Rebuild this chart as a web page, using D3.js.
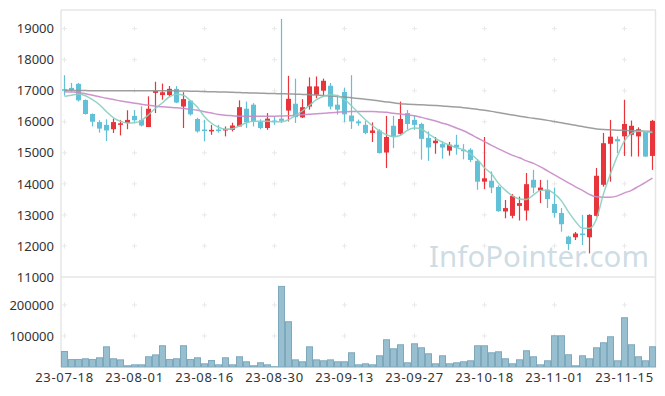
<!DOCTYPE html>
<html>
<head>
<meta charset="utf-8">
<script src="https://cdn.jsdelivr.net/npm/d3@7"></script>
<style>
  body { margin: 0; background: #fff; }
  svg { display: block; font-family: "Noto Sans", sans-serif; }
</style>
</head>
<body>
<svg id="chart"></svg>
<script>
// trading days shown (23-07-18 .. 23-11-21)
var dates = [
  "2023-07-18","2023-07-19","2023-07-20","2023-07-21","2023-07-24","2023-07-25","2023-07-26","2023-07-27","2023-07-28","2023-07-31",
  "2023-08-01","2023-08-02","2023-08-03","2023-08-04","2023-08-07","2023-08-08","2023-08-09","2023-08-10","2023-08-11","2023-08-14",
  "2023-08-16","2023-08-17","2023-08-18","2023-08-21","2023-08-22","2023-08-23","2023-08-24","2023-08-25","2023-08-28","2023-08-29",
  "2023-08-30","2023-08-31","2023-09-01","2023-09-04","2023-09-05","2023-09-06","2023-09-07","2023-09-08","2023-09-11","2023-09-12",
  "2023-09-13","2023-09-14","2023-09-15","2023-09-18","2023-09-19","2023-09-20","2023-09-21","2023-09-22","2023-09-25","2023-09-26",
  "2023-09-27","2023-10-04","2023-10-05","2023-10-06","2023-10-10","2023-10-11","2023-10-12","2023-10-13","2023-10-16","2023-10-17",
  "2023-10-18","2023-10-19","2023-10-20","2023-10-23","2023-10-24","2023-10-25","2023-10-26","2023-10-27","2023-10-30","2023-10-31",
  "2023-11-01","2023-11-02","2023-11-03","2023-11-06","2023-11-07","2023-11-08","2023-11-09","2023-11-10","2023-11-13","2023-11-14",
  "2023-11-15","2023-11-16","2023-11-17","2023-11-20","2023-11-21"
];

var openPrice = [
  17050,17090,17220,16700,16250,15990,15900,15760,15900,15960,
  16190,16060,15830,16930,16860,16860,17060,16490,16680,16090,
  15750,15690,15750,15720,15740,15850,16420,16550,16010,15800,
  16040,16100,16360,16580,16140,16490,16870,17000,17160,16550,
  16960,16200,16010,15900,15640,15720,15010,15870,15610,16280,
  16060,15930,15480,15310,15280,15070,15260,15100,15100,14740,
  14070,14100,13900,13110,12970,13290,13140,14130,13780,13810,
  13350,13060,12300,12280,12400,12280,12970,13970,15290,15440,
  15530,15580,15530,15690,14900
];
var highPrice = [
  17500,17250,17250,16720,16270,16050,16080,16100,16060,16370,
  16380,16500,16820,17290,17230,17150,17150,16950,16700,16130,
  16060,15900,15900,15850,15970,16690,16650,16600,16080,16280,
  16170,19310,17480,17390,16730,17430,17460,17390,17250,16870,
  17100,17500,16070,16030,15980,15760,16190,16190,16650,16380,
  16200,15970,15690,15510,15370,15350,15580,15280,15150,14800,
  15510,14400,13950,13480,13670,13590,14350,14450,14130,14130,
  13880,13220,12330,12450,13000,13020,14510,15640,16060,15530,
  16710,16040,15820,15700,16060
];
var lowPrice = [
  16840,16970,16650,16230,15850,15650,15380,15640,15560,15760,
  16000,15850,15830,16280,16710,16820,16600,15800,16200,15650,
  15370,15580,15650,15530,15690,15850,15800,15850,15760,15740,
  15900,15960,16010,15960,16120,16390,16760,16820,16400,16230,
  15990,15770,15870,15600,15350,14980,14510,15150,15580,15750,
  15740,14780,14740,14970,14810,14910,14940,14790,14700,13810,
  13830,13700,13100,12890,12890,12820,12820,13700,13380,13220,
  12910,12460,11870,12190,12030,11760,12950,13910,14070,14990,
  14900,14880,14880,14870,14450
];
var closePrice = [
  17000,17020,16690,16250,16000,15780,15720,15990,15950,16060,
  16050,15880,16420,16990,16950,17060,16620,16730,16240,15690,
  15730,15740,15740,15770,15880,16470,15980,16010,15800,16100,
  16030,16030,16740,16150,16470,17140,17140,17320,16490,16390,
  16240,16010,15950,15640,15720,14990,15510,15510,16090,15930,
  15900,15450,15170,15390,15170,15260,15170,15080,14770,14070,
  14180,13880,13120,13220,13610,13380,13990,13880,13880,13510,
  13060,12700,12060,12400,12350,13000,14260,15310,15520,15370,
  15930,15870,15760,14880,16030
];
var volume = [
  50000,24000,24000,26500,24000,29700,65000,26500,23000,4000,
  7000,7000,33000,39000,68500,24000,26500,68500,24000,29700,
  10300,21000,7000,29700,7000,33000,16800,4000,13600,7000,
  1000,259700,145800,23000,16800,65000,23000,20000,23000,16800,
  16800,45800,7000,10300,7000,36100,87700,58700,71600,13500,
  74800,61900,42600,10300,36100,10300,13500,16800,20000,68400,
  68400,45800,49000,26500,10300,23200,52300,32900,7000,20000,
  100600,100600,39400,3900,36100,26500,61900,78100,97400,20000,
  158700,71600,32900,20000,65200
];

// moving averages as drawn on the chart (5, 20 and 60 days)
var ma5 = [
  16816,16855,16894,16839,16710,16548,16323,16129,16016,15958,
  15968,16048,16226,16435,16613,16806,16887,16855,16677,16468,
  16161,15952,15823,15758,15774,15871,15968,16016,16016,16016,
  16000,16000,16065,16210,16355,16532,16710,16823,16871,16839,
  16710,16516,16281,16065,15871,15710,15581,15516,15565,15726,
  15797,15758,15613,15468,15339,15242,15161,15097,14968,14774,
  14516,14323,14016,13790,13613,13516,13500,13645,13790,13806,
  13677,13452,13097,12790,12571,12571,12871,13677,14323,14903,
  15387,15629,15694,15677,15655
];
var ma20 = [
  16968,16958,16942,16903,16855,16806,16758,16716,16671,16635,
  16600,16565,16532,16503,16484,16468,16452,16429,16403,16371,
  16323,16281,16235,16210,16194,16177,16174,16174,16174,16177,
  16181,16187,16194,16210,16226,16242,16258,16277,16290,16306,
  16323,16332,16332,16332,16329,16316,16303,16274,16248,16219,
  16194,16142,16084,16023,15955,15887,15797,15710,15597,15477,
  15361,15242,15129,15023,14919,14839,14742,14661,14548,14419,
  14290,14161,14032,13903,13790,13661,13581,13571,13571,13613,
  13710,13790,13919,14048,14184
];
var ma60 = [
  17016,17012,17008,17004,17002,17000,17000,17000,17000,17000,
  17000,17000,17000,17000,17000,17000,16995,16990,16985,16980,
  16973,16967,16961,16955,16948,16940,16933,16926,16919,16913,
  16907,16901,16896,16890,16882,16872,16860,16846,16830,16812,
  16795,16772,16748,16725,16700,16668,16640,16612,16580,16566,
  16555,16545,16534,16523,16510,16492,16475,16455,16430,16400,
  16370,16335,16295,16255,16215,16180,16145,16110,16080,16045,
  16005,15965,15925,15885,15845,15805,15770,15750,15740,15730,
  15720,15712,15703,15695,15688
];

var priceTicks = [11000,12000,13000,14000,15000,16000,17000,18000,19000];
var volumeTicks = [100000, 200000];
var dateTicks = ["2023-07-18","2023-08-01","2023-08-16","2023-08-30","2023-09-13","2023-09-27","2023-10-18","2023-11-01","2023-11-15"];

var W = 665, H = 396;
var plotL = 61, plotR = 656, plotT = 10, plotSplit = 277, plotB = 367;

var svg = d3.select('#chart')
    .attr('width', W)
    .attr('height', H);

svg.append('rect').attr('width', W).attr('height', H).attr('fill', '#fff');

var rows = dates.map(function(d, i) {
    return {date: d, o: openPrice[i], h: highPrice[i], l: lowPrice[i], c: closePrice[i], v: volume[i],
            m5: ma5[i], m20: ma20[i], m60: ma60[i]};
});

var x = d3.scaleBand()
    .domain(dates)
    .range([plotL, plotR]);
var cx = d => x(d) + x.bandwidth() / 2;

var y = d3.scaleLinear().domain([11000, 19600]).range([plotSplit, plotT]);
var yv = d3.scaleLinear().domain([0, 290000]).range([plotB, plotSplit]);

// frame
var frame = svg.append('g').attr('stroke', '#e6e6e6').attr('stroke-width', 1.5).attr('fill', 'none');
frame.append('line').attr('x1', plotL).attr('x2', plotL).attr('y1', plotT).attr('y2', plotB);
frame.append('line').attr('x1', plotL).attr('x2', plotR).attr('y1', plotT).attr('y2', plotT);
frame.append('line').attr('x1', plotR - 0.5).attr('x2', plotR - 0.5).attr('y1', plotT).attr('y2', plotB);
frame.append('line').attr('x1', plotL).attr('x2', plotR).attr('y1', plotSplit).attr('y2', plotSplit);

// grid: little crosses where ticks meet
var crossPts = [];
dateTicks.forEach(function(d) {
    priceTicks.slice(1).forEach(function(p) { crossPts.push([cx(d), y(p)]); });
    volumeTicks.forEach(function(v) { crossPts.push([cx(d), yv(v)]); });
});
var grid = svg.append('g').attr('stroke', '#e9e9e9').attr('stroke-width', 1);
grid.selectAll('path')
    .data(crossPts)
    .enter()
    .append('path')
    .attr('d', p => 'M' + (p[0] - 2.5) + ',' + p[1] + 'h5M' + p[0] + ',' + (p[1] - 2.5) + 'v5');

// watermark
svg.append('text')
    .attr('x', 429)
    .attr('y', 267)
    .attr('font-size', 29.5)
    .attr('fill', '#c5d6df')
    .attr('fill-opacity', 0.85)
    .text('InfoPointer.com');

// volume bars
svg.append('g')
    .selectAll('rect')
    .data(rows)
    .enter()
    .append('rect')
        .attr('x', d => x(d.date) + 0.5)
        .attr('width', x.bandwidth() - 1)
        .attr('y', d => yv(d.v))
        .attr('height', d => yv(0) - yv(d.v))
        .attr('fill', '#97bfcf')
        .attr('stroke', '#7ea9bd')
        .attr('stroke-width', 1);

// candles
var up = '#e8353b', down = '#62c1d7';
var candles = svg.append('g')
    .selectAll('g')
    .data(rows)
    .enter()
    .append('g');

candles.append('line')
    .attr('x1', d => cx(d.date))
    .attr('x2', d => cx(d.date))
    .attr('y1', d => y(d.h))
    .attr('y2', d => y(d.l))
    .attr('stroke', d => d.c > d.o ? up : down)
    .attr('stroke-width', 1.2);

candles.append('rect')
    .attr('x', d => cx(d.date) - 2.5)
    .attr('width', 5)
    .attr('y', d => y(Math.max(d.o, d.c)))
    .attr('height', d => Math.max(1.5, Math.abs(y(d.o) - y(d.c))))
    .attr('fill', d => d.c > d.o ? up : down);

// moving averages
var lines = [
    {key: 'm60', color: '#939393'},
    {key: 'm20', color: '#c988c8'},
    {key: 'm5', color: '#88cfc1'}
];
lines.forEach(function(s) {
    svg.append('path')
        .datum(rows)
        .attr('fill', 'none')
        .attr('stroke', s.color)
        .attr('stroke-width', 1.5)
        .attr('stroke-opacity', 0.9)
        .attr('d', d3.line()
            .curve(d3.curveMonotoneX)
            .x(d => cx(d.date))
            .y(d => y(d[s.key])));
});

// axes
var yAxis = svg.append('g')
    .attr('transform', 'translate(' + plotL + ',0)')
    .call(d3.axisLeft(y).tickValues(priceTicks).tickFormat(d3.format('d')).tickSize(0).tickPadding(7));
var vAxis = svg.append('g')
    .attr('transform', 'translate(' + plotL + ',0)')
    .call(d3.axisLeft(yv).tickValues(volumeTicks).tickFormat(d3.format('d')).tickSize(0).tickPadding(7));
var xAxis = svg.append('g')
    .attr('transform', 'translate(0,' + plotB + ')')
    .call(d3.axisBottom(x).tickValues(dateTicks).tickFormat(d => d.slice(2)).tickSize(0).tickPadding(6));

[yAxis, vAxis, xAxis].forEach(function(a) {
    a.select('.domain').remove();
    a.selectAll('text')
        .attr('fill', '#333')
        .attr('font-size', 13)
        .attr('font-family', '"Noto Sans", sans-serif');
});
xAxis.selectAll('text').attr('letter-spacing', 0.7);
</script>
</body>
</html>
